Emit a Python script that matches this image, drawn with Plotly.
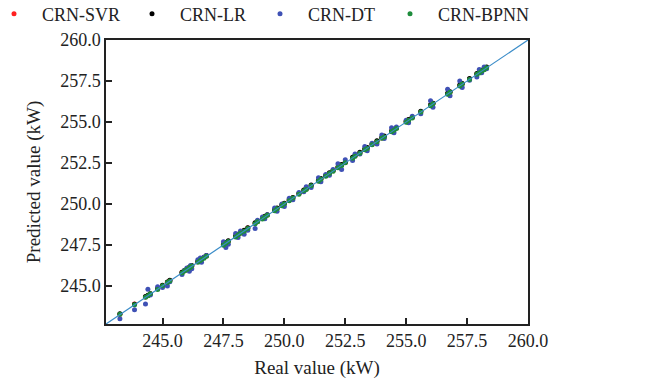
import plotly.graph_objects as go

real = [243.25, 243.85, 244.30, 244.40, 244.50, 244.80, 245.00, 245.20, 245.30, 245.80,
        245.90, 246.00, 246.10, 246.15, 246.20, 246.45, 246.55, 246.60, 246.70, 246.80,
        247.50, 247.60, 247.70, 248.00, 248.10, 248.20, 248.35, 248.50, 248.80, 248.90,
        249.10, 249.20, 249.30, 249.60, 249.70, 249.90, 250.00, 250.20, 250.35, 250.60,
        250.80, 250.90, 251.10, 251.40, 251.50, 251.70, 251.85, 252.00, 252.20, 252.35,
        252.50, 252.80, 252.90, 253.10, 253.30, 253.40, 253.60, 253.80, 254.00, 254.10,
        254.40, 254.50, 254.60, 255.00, 255.10, 255.25, 255.60, 256.00, 256.10, 256.70,
        256.80, 257.20, 257.30, 257.60, 257.90, 258.00, 258.10, 258.20, 258.30]

svr = [243.28, 243.90, 244.33, 244.42, 244.53, 244.83, 245.03, 245.22, 245.33, 245.83,
       245.92, 246.03, 246.12, 246.18, 246.22, 246.48, 246.57, 246.63, 246.72, 246.83,
       247.53, 247.62, 247.73, 248.03, 248.12, 248.23, 248.37, 248.53, 248.82, 248.93,
       249.12, 249.23, 249.33, 249.62, 249.73, 249.92, 250.03, 250.22, 250.38, 250.62,
       250.83, 250.92, 251.13, 251.42, 251.53, 251.72, 251.88, 252.02, 252.23, 252.37,
       252.53, 252.82, 252.93, 253.12, 253.33, 253.42, 253.63, 253.82, 254.03, 254.12,
       254.43, 254.52, 254.63, 255.02, 255.13, 255.27, 255.63, 256.02, 256.13, 256.72,
       256.83, 257.22, 257.33, 257.62, 257.93, 258.02, 258.13, 258.22, 258.33]

lr = [243.30, 243.88, 244.35, 244.44, 244.52, 244.85, 245.05, 245.24, 245.35, 245.84,
      245.95, 246.04, 246.14, 246.19, 246.25, 246.50, 246.60, 246.64, 246.75, 246.85,
      247.55, 247.65, 247.75, 248.05, 248.15, 248.25, 248.40, 248.55, 248.85, 248.95,
      249.15, 249.25, 249.35, 249.65, 249.75, 249.95, 250.05, 250.25, 250.40, 250.65,
      250.85, 250.95, 251.15, 251.45, 251.55, 251.75, 251.90, 252.05, 252.25, 252.40,
      252.55, 252.85, 252.95, 253.15, 253.35, 253.45, 253.65, 253.85, 254.05, 254.15,
      254.45, 254.55, 254.65, 255.05, 255.15, 255.30, 255.65, 256.05, 256.15, 256.75,
      256.85, 257.25, 257.35, 257.65, 257.95, 258.05, 258.15, 258.25, 258.35]

dt = [243.00, 243.55, 243.90, 244.80, 244.45, 244.95, 244.90, 245.00, 245.25, 245.70,
      245.95, 246.10, 245.90, 246.25, 246.05, 246.60, 246.70, 246.45, 246.75, 246.85,
      247.70, 247.35, 247.55, 248.20, 247.95, 248.35, 248.15, 248.40, 248.50, 249.00,
      249.20, 249.10, 249.35, 249.75, 249.55, 250.00, 249.85, 250.35, 250.25, 250.70,
      250.75, 251.05, 251.00, 251.60, 251.35, 251.80, 251.75, 252.10, 252.45, 252.10,
      252.70, 252.65, 253.05, 253.05, 253.50, 253.25, 253.70, 253.65, 254.20, 254.00,
      254.65, 254.35, 254.70, 255.10, 254.95, 255.35, 255.50, 256.30, 255.90, 257.00,
      256.60, 257.50, 257.10, 257.55, 257.75, 258.20, 258.00, 258.35, 258.25]

bpnn = [243.27, 243.86, 244.31, 244.41, 244.52, 244.79, 245.01, 245.21, 245.31, 245.79,
        245.91, 246.01, 246.09, 246.16, 246.21, 246.44, 246.56, 246.61, 246.69, 246.81,
        247.49, 247.61, 247.71, 247.99, 248.11, 248.21, 248.34, 248.51, 248.79, 248.91,
        249.09, 249.21, 249.31, 249.59, 249.71, 249.89, 250.01, 250.19, 250.36, 250.59,
        250.81, 250.89, 251.11, 251.39, 251.51, 251.69, 251.86, 251.99, 252.21, 252.34,
        252.51, 252.79, 252.91, 253.09, 253.31, 253.39, 253.61, 253.79, 254.01, 254.09,
        254.41, 254.49, 254.61, 254.99, 255.11, 255.24, 255.61, 255.99, 256.11, 256.69,
        256.81, 257.19, 257.31, 257.59, 257.91, 257.99, 258.11, 258.19, 258.31]

axis_range = [242.68, 260.0]
ticks = [245.0, 247.5, 250.0, 252.5, 255.0, 257.5, 260.0]

series = [("CRN-SVR", svr, "#ff2020"), ("CRN-LR", lr, "#000000"),
          ("CRN-DT", dt, "#3f51b5"), ("CRN-BPNN", bpnn, "#1e8c3c")]
legend_names = ["legend", "legend2", "legend3", "legend4"]
legend_x_px = [-14, 124, 252, 382]

font = "Liberation Serif, Times New Roman, serif"
W, H = 649, 379
ML, MR, MT, MB = 106, 121, 40, 55
PW, PH = W - ML - MR, H - MT - MB

fig = go.Figure()
for (name, vals, col), lg in zip(series, legend_names):
    fig.add_trace(go.Scatter(x=real, y=vals, mode="markers", name=name, legend=lg,
                             marker=dict(color=col, size=5, line=dict(width=0))))
fig.add_trace(go.Scatter(x=axis_range, y=axis_range, mode="lines", showlegend=False,
                         line=dict(color="#3a8cc8", width=1.2)))

ax = dict(range=axis_range, tickvals=ticks, tickformat=".1f", ticks="inside", ticklen=6,
          tickwidth=1.5, tickcolor="#222", showline=True, linecolor="#222", linewidth=1.5,
          mirror=True, showgrid=False, zeroline=False,
          tickfont=dict(family=font, size=18, color="#222"))

legend_layout = {}
for lg, xp in zip(legend_names, legend_x_px):
    legend_layout[lg] = dict(xref="paper", yref="paper", x=(xp - ML) / PW,
                             y=(H - MB - 14) / PH,
                             xanchor="left", yanchor="middle", itemwidth=46,
                             font=dict(family=font, size=18, color="#222"),
                             bgcolor="rgba(0,0,0,0)", borderwidth=0)

fig.update_layout(
    width=W, height=H, margin=dict(l=ML, r=MR, t=MT, b=MB, autoexpand=False),
    plot_bgcolor="white", paper_bgcolor="white",
    xaxis=dict(ax, title=dict(text="Real value (kW)", font=dict(family=font, size=19, color="#222"))),
    yaxis=dict(ax, title=dict(text="Predicted value (kW)", font=dict(family=font, size=19, color="#222"))),
    showlegend=True,
    **legend_layout,
)
fig.write_html("out.html")
